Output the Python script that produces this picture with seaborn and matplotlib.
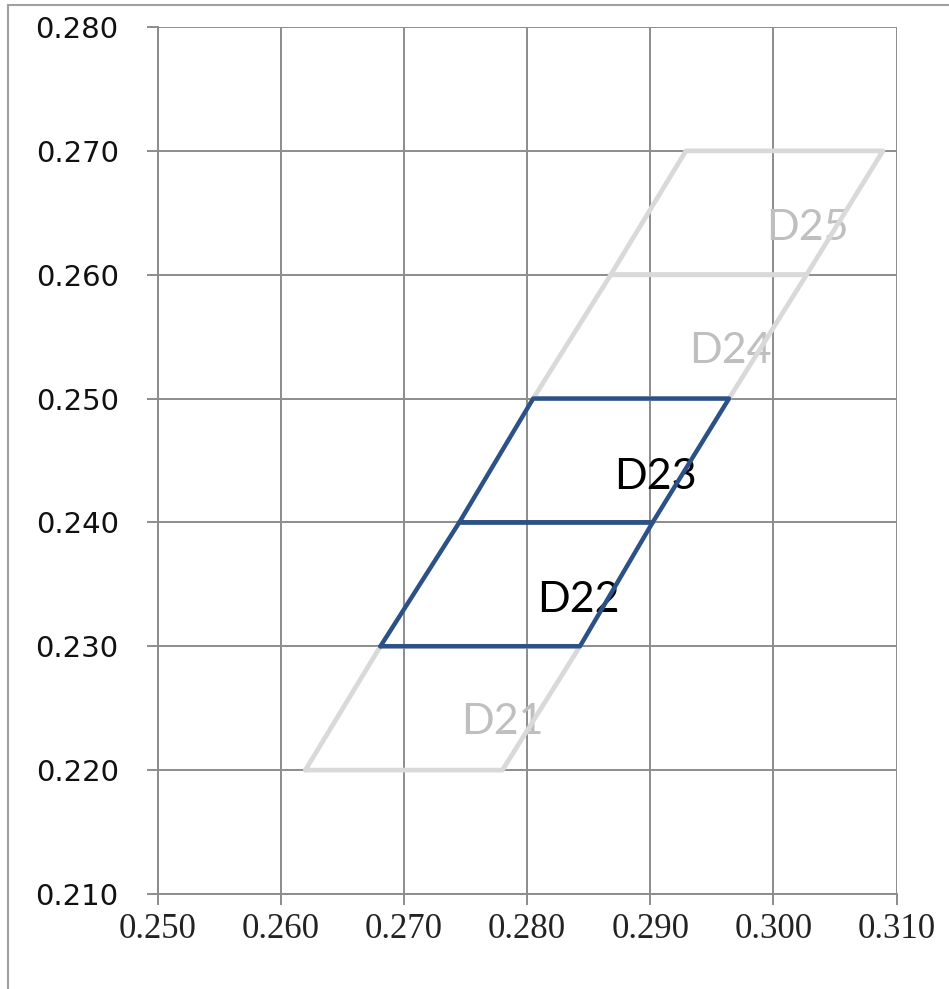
import numpy as np
import pandas as pd
import matplotlib
matplotlib.use('Agg')
import matplotlib.pyplot as plt
import seaborn as sns
from matplotlib.lines import Line2D

# bin boundaries
y_levels = [0.220, 0.230, 0.240, 0.250, 0.260, 0.270]
left_x = [0.2620, 0.2681, 0.2745, 0.2805, 0.2868, 0.2929]
right_x = [0.2780, 0.2843, 0.2902, 0.2964, 0.3027, 0.3089]

bins = ['D21', 'D22', 'D23', 'D24', 'D25']
highlight = ['D22', 'D23']
label_x = [0.2780, 0.2842, 0.2904, 0.2965, 0.3028]
label_y = [0.2239, 0.2337, 0.2437, 0.2538, 0.2638]

x_ticks = [0.250, 0.260, 0.270, 0.280, 0.290, 0.300, 0.310]
y_ticks = [0.210, 0.220, 0.230, 0.240, 0.250, 0.260, 0.270, 0.280]

# build one closed polygon per bin
rows = []
for i, b in enumerate(bins):
    xs = [left_x[i], right_x[i], right_x[i + 1], left_x[i + 1], left_x[i]]
    ys = [y_levels[i], y_levels[i], y_levels[i + 1], y_levels[i + 1], y_levels[i]]
    for k, (x, y) in enumerate(zip(xs, ys)):
        rows.append({'bin': b, 'order': k, 'x': x, 'y': y,
                     'hl': b in highlight})
df = pd.DataFrame(rows)

sns.set_style('white')
grid_col = '#8c8c8c'
blue = '#2c5187'
grey = '#d9d9d9'

fig = plt.figure(figsize=(9.49, 9.89), dpi=100)
ax = fig.add_axes([0.166, 0.0961, 0.7787, 0.8766])

for b in bins:
    sub = df[df['bin'] == b]
    hl = b in highlight
    sns.lineplot(data=sub, x='x', y='y', sort=False, estimator=None, ax=ax,
                 color=blue if hl else grey, linewidth=3.2 if hl else 3.4,
                 zorder=4 if hl else 3, legend=False)

for b, tx, ty in zip(bins, label_x, label_y):
    hl = b in highlight
    ax.text(tx, ty, b, ha='center', va='center', fontsize=31,
            family=['Lato', 'DejaVu Sans'],
            color='black' if hl else '#bfbfbf', zorder=2)

ax.set_xlim(0.250, 0.310)
ax.set_ylim(0.210, 0.280)
ax.set_xticks(x_ticks)
ax.set_yticks(y_ticks)
ax.set_xticklabels([f'{v:.3f}' for v in x_ticks], family='Liberation Serif',
                   fontsize=25, color='#222222')
ax.set_yticklabels([f'{v:.3f}' for v in y_ticks], family='DejaVu Sans',
                   fontsize=21, color='#111111')
ax.set_xlabel('')
ax.set_ylabel('')
ax.grid(True, color=grid_col, linewidth=1.4)
ax.set_axisbelow(True)
for s in ['top', 'right']:
    ax.spines[s].set_visible(False)
for s in ['left', 'bottom']:
    ax.spines[s].set_color(grid_col)
    ax.spines[s].set_linewidth(1.4)
ax.tick_params(axis='both', direction='out', length=8, width=1.4,
               color=grid_col, left=True, bottom=True)
ax.tick_params(axis='y', pad=20)
ax.tick_params(axis='x', pad=6)

# thin frame on the top and left of the picture
fig.add_artist(Line2D([8 / 949, 1], [1 - 5 / 989, 1 - 5 / 989],
                      transform=fig.transFigure, color='#a0a0a0', linewidth=1.5))
fig.add_artist(Line2D([8 / 949, 8 / 949], [0, 1 - 5 / 989],
                      transform=fig.transFigure, color='#a0a0a0', linewidth=1.5))

fig.savefig('out.png', dpi=100)
